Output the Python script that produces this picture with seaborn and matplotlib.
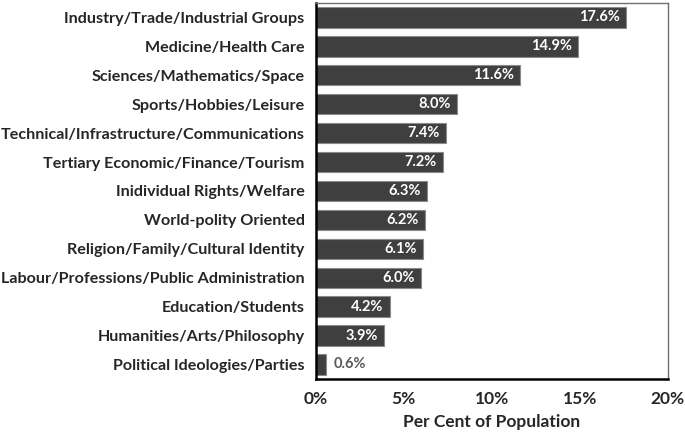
import matplotlib
matplotlib.use("Agg")
import matplotlib.pyplot as plt
import seaborn as sns
import pandas as pd

categories = [
    "Industry/Trade/Industrial Groups",
    "Medicine/Health Care",
    "Sciences/Mathematics/Space",
    "Sports/Hobbies/Leisure",
    "Technical/Infrastructure/Communications",
    "Tertiary Economic/Finance/Tourism",
    "Inidividual Rights/Welfare",
    "World-polity Oriented",
    "Religion/Family/Cultural Identity",
    "Labour/Professions/Public Administration",
    "Education/Students",
    "Humanities/Arts/Philosophy",
    "Political Ideologies/Parties",
]
values = [17.6, 14.9, 11.6, 8.0, 7.4, 7.2, 6.3, 6.2, 6.1, 6.0, 4.2, 3.9, 0.6]
xticks = [0, 5, 10, 15, 20]

df = pd.DataFrame({"category": categories, "value": values})

sns.set_style("white")
plt.rcParams['font.family'] = ['Lato', 'DejaVu Sans']

fig = plt.figure(figsize=(6.85, 4.34), dpi=100)
ax = fig.add_axes([0.461, 0.127, 0.514, 0.866])
sns.barplot(df, x="value", y="category", color="#3f3f3f", width=0.7,
            edgecolor="#8a8a8a", linewidth=0.8, saturation=1, ax=ax)

for i, v in enumerate(values):
    if v > 2:
        ax.text(v - 0.35, i, f"{v:.1f}%", ha="right", va="center",
                color="white", fontsize=10.5, fontweight="bold")
    else:
        ax.text(v + 0.4, i, f"{v:.1f}%", ha="left", va="center",
                color="#595959", fontsize=10.5, fontweight="bold")

ax.set_xlim(0, 20)
ax.set_xticks(xticks)
ax.set_xticklabels([f"{t}%" for t in xticks], fontsize=12.5, fontweight="bold")
ax.set_yticks(range(len(categories)))
ax.set_yticklabels(categories, fontsize=11.6, fontweight="bold")
ax.set_ylabel("")
ax.set_xlabel("Per Cent of Population", fontsize=12.5, fontweight="bold", labelpad=5)
ax.tick_params(axis="x", direction="out", length=5, width=1.5, color="black", pad=4)
ax.tick_params(axis="y", length=0, pad=8)

for s in ["left", "bottom"]:
    ax.spines[s].set_color("black")
    ax.spines[s].set_linewidth(1.8)
for s in ["top", "right"]:
    ax.spines[s].set_color("#707070")
    ax.spines[s].set_linewidth(1.0)

fig.savefig("out.png", dpi=100)
